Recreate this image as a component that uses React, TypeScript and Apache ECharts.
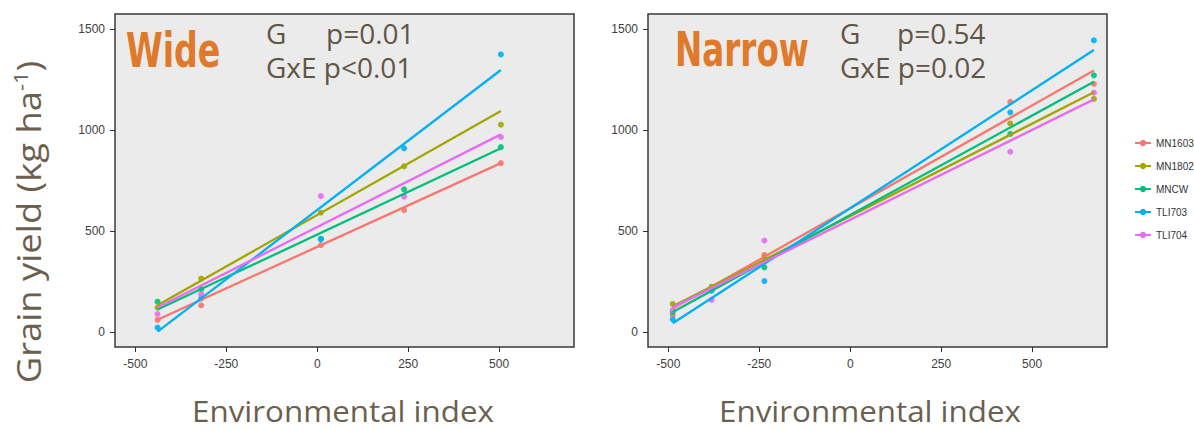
import React, { useEffect, useRef } from "react";
import * as echarts from "echarts";

const genotypes = ["MN1603", "MN1802", "MNCW", "TLI703", "TLI704"];
const colors = ["#F8766D", "#A3A500", "#00BF7D", "#00B0F6", "#E76BF3"];

const xTicks = [-500, -250, 0, 250, 500];
const yTicks = [0, 500, 1000, 1500];

// Wide panel
const wideEnv = [-439, -319, 10, 239, 505];
const wideMN1603 = [61, 133, 430, 604, 836];
const wideMN1802 = [122, 265, 591, 820, 1026];
const wideMNCW = [151, 213, 462, 706, 915];
const wideTLI703 = [23, 167, 459, 909, 1373];
const wideTLI704 = [90, 188, 673, 670, 965];
const wideFitLow = [62, 133, 112, 3, 122];
const wideFitHigh = [836, 1093, 909, 1296, 978];

// Narrow panel
const narrowEnv = [-488, -381, -236, 440, 670];
const narrowMN1603 = [85, 222, 382, 1139, 1227];
const narrowMN1802 = [140, 225, 370, 1032, 1153];
const narrowMNCW = [100, 215, 321, 980, 1270];
const narrowTLI703 = [64, 205, 253, 1087, 1443];
const narrowTLI704 = [110, 160, 453, 892, 1184];
const narrowFitLow = [117, 128, 100, 44, 123];
const narrowFitHigh = [1294, 1186, 1238, 1395, 1151];

const wideYields = [wideMN1603, wideMN1802, wideMNCW, wideTLI703, wideTLI704];
const narrowYields = [narrowMN1603, narrowMN1802, narrowMNCW, narrowTLI703, narrowTLI704];

const textColor = "#5F5646";
const titleColor = "#E07A2B";

export default function App() {
  const ref = useRef<HTMLDivElement>(null);
  useEffect(() => {
    if (!ref.current) return;
    const chart = echarts.init(ref.current, null, { renderer: "svg" });

    const panels = [
      { env: wideEnv, yields: wideYields, low: wideFitLow, high: wideFitHigh },
      { env: narrowEnv, yields: narrowYields, low: narrowFitLow, high: narrowFitHigh },
    ];

    const series: any[] = [];
    panels.forEach((p, pi) => {
      genotypes.forEach((g, gi) => {
        series.push({
          type: "line",
          name: g,
          xAxisIndex: pi,
          yAxisIndex: pi,
          data: [
            [p.env[0], p.low[gi]],
            [p.env[p.env.length - 1], p.high[gi]],
          ],
          showSymbol: false,
          symbol: "circle",
          symbolSize: 6,
          lineStyle: { width: 2.3, color: colors[gi] },
          itemStyle: { color: colors[gi] },
          z: 3,
        });
      });
    });
    panels.forEach((p, pi) => {
      genotypes.forEach((g, gi) => {
        series.push({
          type: "scatter",
          name: g,
          xAxisIndex: pi,
          yAxisIndex: pi,
          data: p.env.map((x, i) => [x, p.yields[gi][i]]),
          symbol: "circle",
          symbolSize: 6,
          itemStyle: { color: colors[gi], opacity: 0.9 },
          z: 2,
        });
      });
    });

    const gridBase = {
      top: 14,
      width: 459,
      height: 333,
      show: true,
      backgroundColor: "#EBEBEB",
      borderColor: "#3A3A3A",
      borderWidth: 1.5,
    };

    const axisLabelStyle = {
      fontSize: 12,
      color: "#404040",
      fontFamily: "'Liberation Sans', Arial, sans-serif",
      formatter: (v: number) => String(v),
    };

    const titleFont = "bold 48px 'DejaVu Sans Condensed', 'Liberation Sans', sans-serif";
    const annFont = "28px 'Open Sans', sans-serif";

    const option: any = {
      animation: false,
      grid: [
        { ...gridBase, left: 115 },
        { ...gridBase, left: 648 },
      ],
      xAxis: [0, 1].map((i) => ({
        type: "value",
        gridIndex: i,
        min: -556,
        max: 706,
        splitLine: { show: false },
        axisLine: { show: false, onZero: false },
        axisTick: { show: true, length: 5, lineStyle: { color: "#333" }, customValues: xTicks },
        axisLabel: { ...axisLabelStyle, margin: 11, customValues: xTicks },
      })),
      yAxis: [0, 1].map((i) => ({
        type: "value",
        gridIndex: i,
        min: -73,
        max: 1573,
        splitLine: { show: false },
        axisLine: { show: false, onZero: false },
        axisTick: { show: true, length: 5, lineStyle: { color: "#333" }, customValues: yTicks },
        axisLabel: { ...axisLabelStyle, margin: 10, customValues: yTicks },
      })),
      legend: {
        orient: "vertical",
        left: 1129,
        top: 133,
        itemWidth: 16,
        itemHeight: 8,
        itemGap: 13,
        data: genotypes,
        textStyle: { fontSize: 10, color: "#333", fontFamily: "'Liberation Sans', Arial, sans-serif" },
      },
      graphic: [
        {
          type: "text",
          x: 126,
          y: 50,
          scaleX: 0.77,
          style: { text: "Wide", fill: titleColor, font: titleFont, verticalAlign: "middle" },
        },
        {
          type: "text",
          x: 675,
          y: 50,
          scaleX: 0.755,
          style: { text: "Narrow", fill: titleColor, font: titleFont, verticalAlign: "middle" },
        },
        ...[
          { x: 266, p: 326, t1: "p=0.01", t2: "GxE p<0.01" },
          { x: 840, p: 897, t1: "p=0.54", t2: "GxE p=0.02" },
        ].flatMap((a) => [
          { type: "text", x: a.x, y: 32.5, style: { text: "G", fill: textColor, font: annFont, verticalAlign: "middle" } },
          { type: "text", x: a.p, y: 32.5, style: { text: a.t1, fill: textColor, font: annFont, verticalAlign: "middle" } },
          { type: "text", x: a.x, y: 67, style: { text: a.t2, fill: textColor, font: annFont, verticalAlign: "middle" } },
        ]),
        {
          type: "text",
          x: 343,
          y: 410,
          scaleX: 1.045,
          style: { text: "Environmental index", fill: "#6B5F4F", font: "30px 'Open Sans', sans-serif", align: "center", verticalAlign: "middle" },
        },
        {
          type: "text",
          x: 870,
          y: 410,
          scaleX: 1.045,
          style: { text: "Environmental index", fill: "#6B5F4F", font: "30px 'Open Sans', sans-serif", align: "center", verticalAlign: "middle" },
        },
        {
          type: "text",
          x: 28,
          y: 222,
          rotation: Math.PI / 2,
          scaleX: 1.1,
          style: {
            text: "Grain yield (kg ha{sup|-1})",
            fill: "#6B5F4F",
            font: "33px 'Open Sans', sans-serif",
            align: "center",
            verticalAlign: "middle",
            rich: {
              sup: { fontSize: 20, fontFamily: "'Open Sans', sans-serif", fill: "#6B5F4F", padding: [0, 0, 16, 0] },
            },
          },
        },
      ],
      series,
    };

    chart.setOption(option);
    return () => chart.dispose();
  }, []);

  return (
    <div
      ref={ref}
      style={{ position: "absolute", left: 0, top: 0, width: 1194, height: 430, background: "#fff" }}
    />
  );
}
